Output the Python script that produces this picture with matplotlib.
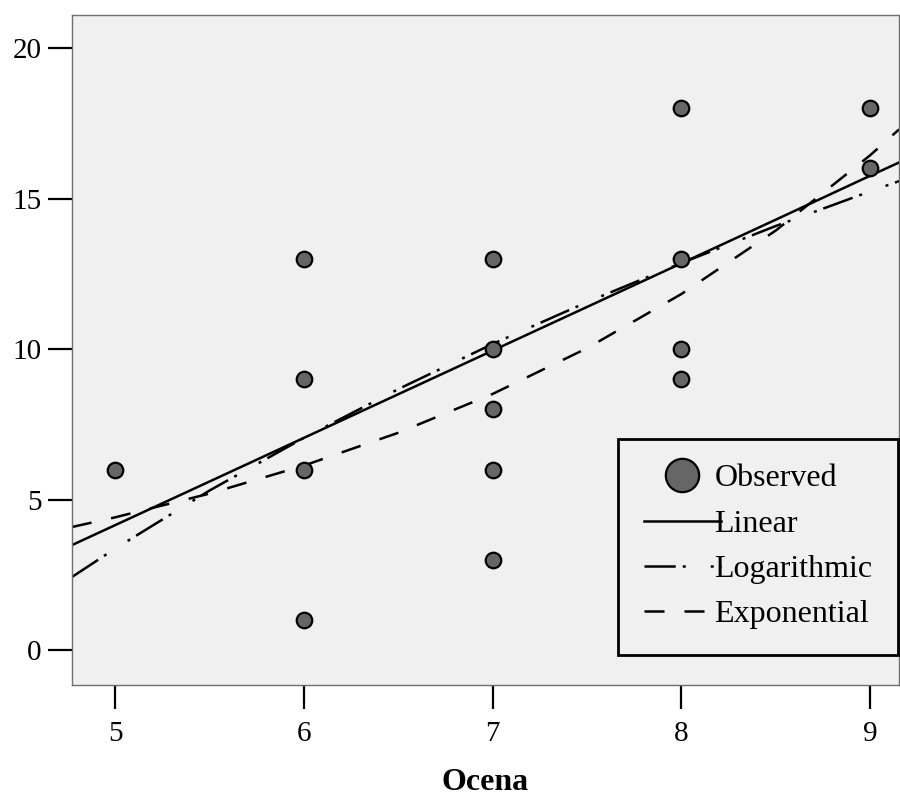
import numpy as np
import matplotlib
matplotlib.use("Agg")
import matplotlib.pyplot as plt
from matplotlib.lines import Line2D

plt.rcParams['font.family'] = ['Liberation Serif', 'DejaVu Serif']

# observed points (Ocena vs score)
ocena = [5, 6, 6, 6, 6, 7, 7, 7, 7, 7, 8, 8, 8, 8, 9, 9]
score = [6, 13, 9, 6, 1, 13, 10, 8, 6, 3, 18, 13, 10, 9, 18, 16]

# fitted curves, values
curve_x = [4.772, 5, 5.5, 6, 6.5, 7, 7.5, 8, 8.5, 9, 9.153]
linear = [3.49, 4.15, 5.60, 7.05, 8.50, 9.95, 11.40, 12.85, 14.30, 15.76, 16.20]
logarithmic = [2.43, 3.37, 5.30, 7.05, 8.67, 10.17, 11.56, 12.86, 14.09, 15.24, 15.58]
exponential = [4.09, 4.41, 5.20, 6.13, 7.22, 8.51, 10.03, 11.83, 13.94, 16.44, 17.30]

x_ticks = [5, 6, 7, 8, 9]
y_ticks = [0, 5, 10, 15, 20]

LW = 1.8
LOG_DASH = (0, (12.5, 2.8, 1.2, 10, 1.2, 2.8))
EXP_DASH = (0, (8, 8))

fig = plt.figure(figsize=(9, 7.96), dpi=100)
ax = fig.add_axes([0.08, 0.1394, 0.919, 0.8418])
ax.set_facecolor('#f0f0f0')

ax.plot(curve_x, linear, color='black', lw=LW, ls='-')
ax.plot(curve_x, logarithmic, color='black', lw=LW, ls=LOG_DASH)
ax.plot(curve_x, exponential, color='black', lw=LW, ls=EXP_DASH)
ax.scatter(ocena, score, s=125, c='#666666', edgecolors='black', linewidths=1.6, zorder=3)

ax.set_xlim(4.772, 9.153)
ax.set_ylim(-1.16, 21.1)
ax.set_xticks(x_ticks)
ax.set_yticks(y_ticks)
ax.tick_params(direction='out', length=17, width=1.6, labelsize=21, color='black')
ax.tick_params(axis='x', pad=9)
ax.tick_params(axis='y', pad=5)
for side in ['top', 'right', 'left', 'bottom']:
    ax.spines[side].set_color('#707070')
    ax.spines[side].set_linewidth(1)

ax.set_xlabel('Ocena', fontsize=23, fontweight='bold', labelpad=15)

handles = [
    Line2D([], [], ls='none', marker='o', markersize=24, markerfacecolor='#666666',
           markeredgecolor='black', markeredgewidth=1.6),
    Line2D([], [], color='black', lw=LW, ls='-'),
    Line2D([], [], color='black', lw=LW, ls=LOG_DASH),
    Line2D([], [], color='black', lw=LW, ls=EXP_DASH),
]
labels = ['Observed', 'Linear', 'Logarithmic', 'Exponential']
leg = fig.legend(handles, labels, loc='lower right', bbox_to_anchor=(898 / 900, 1 - 655 / 796),
                 fontsize=23, frameon=True, fancybox=False, facecolor='#f0f0f0',
                 edgecolor='black', handlelength=2.4, handletextpad=-0.2,
                 borderpad=0.8, labelspacing=0.5, borderaxespad=0)
leg.get_frame().set_linewidth(2)
leg.get_frame().set_alpha(1)

fig.savefig('out.png', dpi=100)
